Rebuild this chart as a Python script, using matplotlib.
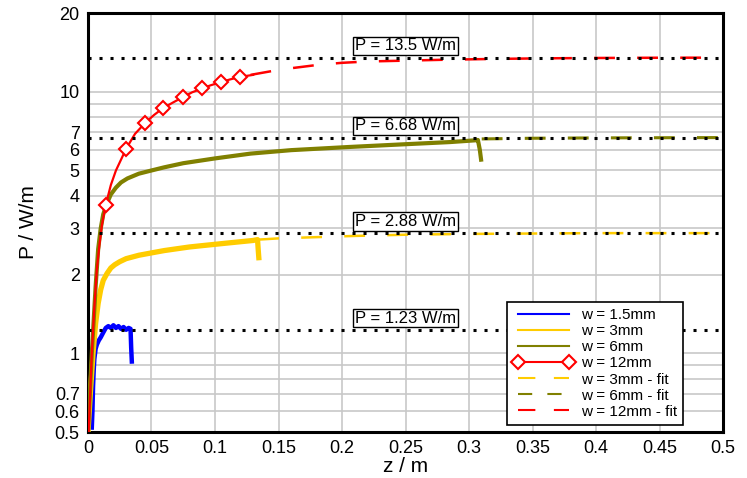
import numpy as np
import matplotlib
matplotlib.use("Agg")
import matplotlib.pyplot as plt

# measured P over z for the different widths
blue_z = [0.0030, 0.0035, 0.0040, 0.0045, 0.0050, 0.0060, 0.0070, 0.0085, 0.0100, 0.0120, 0.0140,
          0.0160, 0.0180, 0.0200, 0.0220, 0.0240, 0.0260, 0.0280, 0.0300, 0.0320, 0.0335, 0.0340, 0.0345]
blue_p = [0.52, 0.60, 0.75, 0.86, 0.95, 1.04, 1.08, 1.12, 1.15, 1.20, 1.25,
          1.27, 1.25, 1.28, 1.25, 1.27, 1.24, 1.26, 1.23, 1.25, 1.24, 1.05, 0.93]

yellow_z = [0.000, 0.002, 0.004, 0.006, 0.008, 0.010, 0.012, 0.015, 0.018, 0.021, 0.025, 0.030, 0.040,
            0.050, 0.060, 0.070, 0.080, 0.090, 0.100, 0.110, 0.120, 0.130, 0.1335, 0.1340, 0.1345]
yellow_p = [0.50, 0.72, 1.00, 1.30, 1.55, 1.75, 1.90, 2.02, 2.12, 2.18, 2.24, 2.30, 2.37,
            2.42, 2.47, 2.51, 2.55, 2.58, 2.61, 2.64, 2.67, 2.70, 2.72, 2.50, 2.32]

olive_z = [0.000, 0.003, 0.006, 0.008, 0.010, 0.012, 0.015, 0.018, 0.022, 0.026, 0.031, 0.040, 0.050,
           0.060, 0.075, 0.100, 0.128, 0.160, 0.206, 0.250, 0.285, 0.305, 0.307, 0.3085, 0.3095]
olive_p = [0.50, 1.00, 1.80, 2.50, 3.00, 3.40, 3.75, 4.05, 4.30, 4.50, 4.66, 4.86, 5.00,
           5.14, 5.33, 5.56, 5.80, 5.98, 6.15, 6.30, 6.42, 6.52, 6.54, 6.00, 5.50]

red_z = [0.0005, 0.003, 0.005, 0.007, 0.009, 0.011, 0.014, 0.018, 0.022, 0.026, 0.030, 0.037,
         0.045, 0.052, 0.059, 0.067, 0.075, 0.082, 0.090, 0.097, 0.105, 0.112, 0.120, 0.130]
red_p = [0.50, 1.00, 1.50, 2.10, 2.60, 3.10, 3.70, 4.40, 5.00, 5.50, 6.05, 6.90,
         7.60, 8.15, 8.65, 9.10, 9.55, 9.95, 10.30, 10.60, 10.90, 11.15, 11.40, 11.60]
red_marks = [6, 10, 12, 14, 16, 18, 20, 22]

# fits
fit3_z = [0.134, 0.150, 0.180, 0.210, 0.250, 0.300, 0.350, 0.400, 0.450, 0.500]
fit3_p = [2.72, 2.75, 2.78, 2.81, 2.84, 2.86, 2.87, 2.88, 2.88, 2.88]
fit6_z = [0.310, 0.350, 0.400, 0.450, 0.500]
fit6_p = [6.60, 6.64, 6.66, 6.67, 6.68]
fit12_z = [0.128, 0.145, 0.160, 0.180, 0.200, 0.220, 0.250, 0.280, 0.320, 0.360, 0.400, 0.450, 0.500]
fit12_p = [11.6, 12.0, 12.3, 12.65, 12.9, 13.05, 13.15, 13.25, 13.35, 13.42, 13.46, 13.49, 13.5]

# saturation levels
p_sat = [13.5, 6.68, 2.88, 1.23]
p_sat_labels = ["P = 13.5 W/m", "P = 6.68 W/m", "P = 2.88 W/m", "P = 1.23 W/m"]

plt.rcParams['font.family'] = ['Liberation Sans', 'DejaVu Sans']

fig = plt.figure(figsize=(7.47, 4.78), dpi=100)
ax = fig.add_axes([0.1178, 0.0962, 0.8501, 0.8766])


def dash(lw):
    # dash ~15pt, gap ~16pt independent of the width
    return (0, (15.0 / lw, 16.0 / lw))


ax.plot(blue_z, blue_p, color='#0000FF', lw=3.2, label='w = 1.5mm', zorder=3)
ax.plot(yellow_z, yellow_p, color='#FFCC00', lw=3.8, label='w = 3mm', zorder=3)
ax.plot(olive_z, olive_p, color='#808000', lw=3, label='w = 6mm', zorder=3)
ax.plot(red_z, red_p, color='#FF0000', lw=1.6, marker='D', markevery=red_marks, ms=7,
        mfc='white', mec='#FF0000', mew=1.5, label='w = 12mm', zorder=4)
ax.plot(fit3_z, fit3_p, color='#FFCC00', lw=1.8, ls=dash(1.8), label='w = 3mm - fit', zorder=3)
ax.plot(fit6_z, fit6_p, color='#808000', lw=2.2, ls=dash(2.2), label='w = 6mm - fit', zorder=3)
ax.plot(fit12_z, fit12_p, color='#FF0000', lw=1.8, ls=dash(1.8), label='w = 12mm - fit', zorder=3)

for p, txt in zip(p_sat, p_sat_labels):
    ax.plot([0, 0.5], [p, p], color='black', lw=2.2, ls=(0, (1, 2.6)), dash_capstyle='butt', zorder=5)
    ax.annotate(txt, xy=(0.25, p), xytext=(0, 3), textcoords='offset points', ha='center', va='bottom',
                fontsize=12, zorder=6,
                bbox=dict(boxstyle='square,pad=0.1', fc='white', ec='black', lw=1))

ax.set_yscale('log')
ax.set_xlim(0, 0.5)
ax.set_ylim(0.5, 20)
ax.set_xticks(np.arange(0, 0.51, 0.05))
ax.set_xticklabels(['0', '0.05', '0.1', '0.15', '0.2', '0.25', '0.3', '0.35', '0.4', '0.45', '0.5'])
yt = [0.5, 0.6, 0.7, 1, 2, 3, 4, 5, 6, 7, 10, 20]
ax.set_yticks(yt)
ax.set_yticklabels(['0.5', '0.6', '0.7', '1', '2', '3', '4', '5', '6', '7', '10', '20'])
ax.set_yticks([0.8, 0.9, 8, 9], minor=True)
ax.yaxis.set_minor_formatter(matplotlib.ticker.NullFormatter())
ax.tick_params(which='both', length=0, labelsize=13, pad=6)
ax.grid(True, which='both', color='#C8C8C8', lw=1.2)
ax.set_axisbelow(True)
for s in ax.spines.values():
    s.set_linewidth(2.2)
    s.set_color('black')

ax.set_xlabel('z / m', fontsize=15, labelpad=0)
ax.set_ylabel('P / W/m', fontsize=15, labelpad=12)

leg = ax.legend(loc='lower right', bbox_to_anchor=(0.937, 0.017), borderaxespad=0, fontsize=11,
                fancybox=False, edgecolor='black', framealpha=1, handlelength=3.9, handletextpad=0.5,
                labelspacing=0.14, numpoints=2, borderpad=0.4)
leg.get_frame().set_linewidth(1.2)
for h in leg.legend_handles:
    h.set_linewidth(1.5)
leg.set_zorder(10)

fig.savefig('out.png', dpi=100)
